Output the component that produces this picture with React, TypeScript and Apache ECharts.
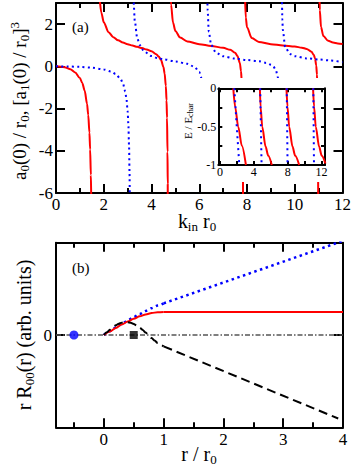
import React, { useEffect, useRef } from "react";
import * as echarts from "echarts";

const FONT = "Liberation Serif";

// ---------- Panel (a): k_in r0 -> a0(0)/r0 (red) and [a1(0)/r0]^3 (blue) ----------
const redA1: number[][] = [[0, 0], [0.2, -0.014], [0.4, -0.057], [0.6, -0.14], [0.8, -0.287], [1.0, -0.557], [1.1, -0.786], [1.2, -1.143], [1.3, -1.771], [1.35, -2.3], [1.4, -3.14], [1.43, -3.94], [1.46, -5.15], [1.48, -6.42], [1.5, -8.4]];
const redA2: number[][] = [[1.6, 22.4], [1.65, 8.64], [1.7, 5.53], [1.75, 4.15], [1.8, 3.38], [1.9, 2.54], [2.0, 2.09], [2.2, 1.62], [2.4, 1.38], [2.6, 1.23], [2.8, 1.127], [3.0, 1.048], [3.2, 0.982], [3.4, 0.922], [3.6, 0.863], [3.8, 0.796], [4.0, 0.71], [4.2, 0.577], [4.3, 0.47], [4.4, 0.296], [4.5, -0.03], [4.55, -0.342], [4.6, -0.926], [4.63, -1.615], [4.65, -2.44], [4.67, -4.05], [4.68, -5.59], [4.69, -8.5]];
const redA3: number[][] = [[4.74, 8.64], [4.75, 6.6], [4.78, 4.09], [4.82, 2.92], [4.9, 2.08], [5.0, 1.676], [5.2, 1.363], [5.5, 1.181], [6.0, 1.049], [6.5, 0.966], [7.0, 0.876], [7.3, 0.781], [7.5, 0.647], [7.6, 0.493], [7.7, 0.163], [7.75, -0.236], [7.78, -0.734], [7.8, -1.37], [7.82, -2.76], [7.84, -8.1]];
const redA4: number[][] = [[7.87, 8.9], [7.9, 3.75], [7.95, 2.31], [8.0, 1.85], [8.2, 1.338], [8.5, 1.155], [9.0, 1.05], [9.5, 0.992], [10.0, 0.935], [10.3, 0.884], [10.5, 0.825], [10.7, 0.693], [10.8, 0.533], [10.85, 0.371], [10.9, 0.043], [10.93, -0.393], [10.95, -1.0], [10.97, -2.56], [10.985, -7.6]];
const redA5: number[][] = [[11.005, 10.6], [11.01, 7.3], [11.03, 3.63], [11.05, 2.66], [11.1, 1.86], [11.2, 1.431], [11.4, 1.206], [11.6, 1.125], [11.8, 1.082], [12.0, 1.053]];

const blueA1: number[][] = [[0, 0], [0.5, -0.006], [1.0, -0.025], [1.5, -0.064], [2.0, -0.146], [2.3, -0.244], [2.5, -0.362], [2.7, -0.587], [2.8, -0.799], [2.9, -1.191], [2.95, -1.529], [3.0, -2.116], [3.03, -2.72], [3.06, -3.77], [3.08, -5.03], [3.09, -6.04], [3.1, -7.52]];
const blueA2: number[][] = [[3.17, 11.3], [3.2, 5.58], [3.25, 3.07], [3.3, 2.14], [3.4, 1.36], [3.5, 1.014], [3.7, 0.693], [4.0, 0.487], [4.25, 0.395], [4.5, 0.332], [5.0, 0.234], [5.5, 0.118], [5.8, -0.025], [6.0, -0.267], [6.1, -0.578], [6.15, -0.907], [6.2, -1.627], [6.24, -3.4]];
const blueA3: number[][] = [[6.3, 9.76], [6.33, 3.68], [6.35, 2.66], [6.4, 1.64], [6.5, 1.008], [6.7, 0.648], [7.0, 0.477], [7.5, 0.366], [8.0, 0.299], [8.5, 0.244], [8.8, 0.163], [9.0, 0.075], [9.1, -0.005], [9.2, -0.154], [9.3, -0.535], [9.35, -1.106], [9.38, -2.056], [9.4, -3.97]];
const blueA4: number[][] = [[9.44, 7.29], [9.46, 3.32], [9.48, 2.23], [9.5, 1.72], [9.6, 0.911], [9.8, 0.582], [10.0, 0.478], [10.5, 0.376], [11.0, 0.325], [11.5, 0.278], [12.0, 0.195]];

const kLabelsA = [0, 2, 4, 6, 8, 10, 12];
const kMinorA = [1, 3, 5, 7, 9, 11];
const yLabelsA = [-6, -4, -2, 0, 2];

// ---------- Inset: k_in r0 -> E / E_char ----------
const redI1: number[][] = [[1.57, 0], [1.8, -0.25], [2.15, -0.5], [2.58, -0.75], [3.06, -1]];
const redI2: number[][] = [[4.71, 0], [4.79, -0.24], [4.99, -0.5], [5.38, -0.76], [5.7, -0.88], [6.12, -1]];
const redI3: number[][] = [[7.85, 0], [7.97, -0.24], [8.17, -0.5], [8.56, -0.76], [8.88, -0.88], [9.35, -1]];
const redI4: number[][] = [[10.99, 0], [11.11, -0.24], [11.31, -0.5], [11.7, -0.76], [12.02, -0.88], [12.45, -0.98]];
const blueI1: number[][] = [[1.69, 0], [1.98, -0.5], [2.28, -1]];
const blueI2: number[][] = [[4.75, 0], [4.83, -0.5], [4.91, -1]];
const blueI3: number[][] = [[7.88, 0], [7.93, -0.5], [7.98, -1]];
const blueI4: number[][] = [[11.02, 0], [11.06, -0.5], [11.1, -1]];

const kLabelsI = [0, 4, 8, 12];
const kTicksI = [0, 2, 4, 6, 8, 10, 12];
const eLabelsI = [-1, -0.5, 0];
const eTicksI = [-1, -0.75, -0.5, -0.25, 0];

// ---------- Panel (b): r / r0 -> r R00(r) ----------
// inside the well (r < r0)
const redBIn: number[][] = [[0, 0], [0.1, 0.039], [0.2, 0.077], [0.3, 0.113], [0.4, 0.147], [0.5, 0.177], [0.6, 0.202], [0.7, 0.223], [0.8, 0.238], [0.9, 0.247], [1.0, 0.25]];
const blueBIn: number[][] = [[0, 0], [0.1, 0.04], [0.2, 0.08], [0.3, 0.119], [0.4, 0.157], [0.5, 0.194], [0.6, 0.228], [0.7, 0.261], [0.8, 0.291], [0.9, 0.319], [1.0, 0.343]];
const blackBIn: number[][] = [[0, 0], [0.05, 0.029], [0.1, 0.057], [0.15, 0.083], [0.2, 0.105], [0.25, 0.122], [0.3, 0.134], [0.35, 0.139], [0.4, 0.139], [0.45, 0.133], [0.5, 0.12], [0.55, 0.102], [0.6, 0.08], [0.65, 0.055], [0.7, 0.026], [0.75, -0.003], [0.8, -0.033], [0.85, -0.06], [0.9, -0.086], [0.95, -0.107], [1.0, -0.123]];
// outside the well (straight lines)
const redBOut: number[][] = [[1.0, 0.25], [4.0, 0.25]];
const blueBOut: number[][] = [[1.0, 0.343], [4.0, 1.02]];
const blackBOut: number[][] = [[1.0, -0.123], [3.92, -0.905]];
const baselineB: number[][] = [[-0.8, 0], [4, 0]];
const circleB: number[][] = [[-0.5, 0]];
const squareB: number[][] = [[0.5, 0]];

const rLabelsB = [0, 1, 2, 3, 4];
const rMinorB = [-0.5, 0.5, 1.5, 2.5, 3.5];
const yLabelsB = [0];

type AxOpt = {
  gridIndex: number;
  position: string;
  min: number;
  max: number;
  ticks: number[];
  len: number;
  labels?: number[];
  line?: boolean;
  fontSize?: number;
  margin?: number;
  z?: number;
};

function ax(o: AxOpt) {
  const a: any = {
    type: "value",
    gridIndex: o.gridIndex,
    position: o.position,
    min: o.min,
    max: o.max,
    axisLine: { show: o.line !== false, onZero: false, lineStyle: { color: "#000", width: 2 } },
    axisTick: { show: true, inside: true, length: o.len, customValues: o.ticks, lineStyle: { color: "#000", width: 2 } },
    axisLabel: o.labels
      ? {
          show: true,
          customValues: o.labels,
          fontSize: o.fontSize ?? 17,
          margin: o.margin ?? 3,
          color: "#000",
          fontFamily: FONT,
          showMinLabel: true,
          showMaxLabel: true,
        }
      : { show: false },
    splitLine: { show: false },
  };
  if (o.z !== undefined) a.z = o.z;
  return a;
}

function line(data: number[][], color: string, width: number, type: any, xi: number, yi: number, z = 2, smooth: any = 0.3) {
  return {
    type: "line",
    data,
    xAxisIndex: xi,
    yAxisIndex: yi,
    showSymbol: false,
    symbol: "none",
    smooth,
    smoothMonotone: "x",
    clip: true,
    silent: true,
    z,
    lineStyle: { color, width, type, cap: "butt" },
  };
}

const RED = "#ff0000";
const BLUE = "#0000ff";
const DOT_A = [2, 3.3];

const rich = {
  s: { fontSize: 13, fontFamily: FONT, verticalAlign: "bottom", lineHeight: 10 },
  p: { fontSize: 13, fontFamily: FONT, verticalAlign: "top", lineHeight: 10 },
};
const richSmall = {
  s: { fontSize: 8, fontFamily: FONT, verticalAlign: "bottom", lineHeight: 6 },
};

function label(x: number, y: number, text: string, rotated: boolean, size = 20, r: any = rich, lh = 23) {
  return {
    type: "text",
    x,
    y,
    rotation: rotated ? Math.PI / 2 : 0,
    z: 70,
    style: {
      text,
      fontSize: size,
      fontFamily: FONT,
      lineHeight: lh,
      fill: "#000",
      align: "center",
      verticalAlign: "middle",
      rich: r,
    },
  };
}

export default function App() {
  const ref = useRef<HTMLDivElement>(null);
  useEffect(() => {
    if (!ref.current) return;
    const chart = echarts.init(ref.current, undefined, { renderer: "svg" });
    const option: any = {
      animation: false,
      textStyle: { fontFamily: FONT },
      grid: [
        { left: 56, top: 3, width: 287, height: 190 },
        { left: 218.3, top: 88.3, width: 106.7, height: 76.7 },
        { left: 56, top: 242.7, width: 287, height: 184.6 },
      ],
      xAxis: [
        ax({ gridIndex: 0, position: "bottom", min: 0, max: 12, ticks: kLabelsA, len: 9, labels: kLabelsA, margin: 3 }),
        ax({ gridIndex: 0, position: "bottom", min: 0, max: 12, ticks: kMinorA, len: 5, line: false }),
        ax({ gridIndex: 0, position: "top", min: 0, max: 12, ticks: kLabelsA, len: 9 }),
        ax({ gridIndex: 0, position: "top", min: 0, max: 12, ticks: kMinorA, len: 5, line: false }),
        ax({ gridIndex: 1, position: "bottom", min: -0.2, max: 12.4, ticks: kTicksI, len: 4, labels: kLabelsI, fontSize: 12, margin: 1, z: 60 }),
        ax({ gridIndex: 1, position: "top", min: -0.2, max: 12.4, ticks: kTicksI, len: 4, z: 60 }),
        ax({ gridIndex: 2, position: "bottom", min: -0.8, max: 4, ticks: rLabelsB, len: 9, labels: rLabelsB, margin: 4 }),
        ax({ gridIndex: 2, position: "bottom", min: -0.8, max: 4, ticks: rMinorB, len: 5, line: false }),
        ax({ gridIndex: 2, position: "top", min: -0.8, max: 4, ticks: rLabelsB, len: 9 }),
        ax({ gridIndex: 2, position: "top", min: -0.8, max: 4, ticks: rMinorB, len: 5, line: false }),
      ],
      yAxis: [
        ax({ gridIndex: 0, position: "left", min: -6, max: 3, ticks: yLabelsA, len: 9, labels: yLabelsA, margin: 3 }),
        ax({ gridIndex: 0, position: "right", min: -6, max: 3, ticks: yLabelsA, len: 9 }),
        ax({ gridIndex: 1, position: "left", min: -1, max: 0, ticks: eTicksI, len: 4, labels: eLabelsI, fontSize: 12, margin: 2, z: 60 }),
        ax({ gridIndex: 1, position: "right", min: -1, max: 0, ticks: eTicksI, len: 4, z: 60 }),
        ax({ gridIndex: 2, position: "left", min: -1, max: 1, ticks: yLabelsB, len: 9, labels: yLabelsB, margin: 4 }),
        ax({ gridIndex: 2, position: "right", min: -1, max: 1, ticks: yLabelsB, len: 9 }),
      ],
      series: [
        line(redA1, RED, 2, "solid", 0, 0),
        line(redA2, RED, 2, "solid", 0, 0),
        line(redA3, RED, 2, "solid", 0, 0),
        line(redA4, RED, 2, "solid", 0, 0),
        line(redA5, RED, 2, "solid", 0, 0),
        line(blueA1, BLUE, 2, DOT_A, 0, 0, 3),
        line(blueA2, BLUE, 2, DOT_A, 0, 0, 3),
        line(blueA3, BLUE, 2, DOT_A, 0, 0, 3),
        line(blueA4, BLUE, 2, DOT_A, 0, 0, 3),

        line(redI1, RED, 2, "solid", 4, 2, 61),
        line(redI2, RED, 2, "solid", 4, 2, 61),
        line(redI3, RED, 2, "solid", 4, 2, 61),
        line(redI4, RED, 2, "solid", 4, 2, 61),
        line(blueI1, BLUE, 2, [2, 4], 4, 2, 62, false),
        line(blueI2, BLUE, 2, [2, 4], 4, 2, 62, false),
        line(blueI3, BLUE, 2, [2, 4], 4, 2, 62, false),
        line(blueI4, BLUE, 2, [2, 4], 4, 2, 62, false),

        line(baselineB, "#555555", 1.3, [5, 2, 1.5, 2], 6, 4, 2, false),
        line(blueBIn, BLUE, 2.5, [2.5, 3.5], 6, 4, 3),
        line(blueBOut, BLUE, 2.5, [2.5, 3.5], 6, 4, 3, false),
        line(redBIn, RED, 2, "solid", 6, 4, 4),
        line(redBOut, RED, 2, "solid", 6, 4, 4, false),
        line(blackBIn, "#000000", 2, [9, 5], 6, 4, 5),
        line(blackBOut, "#000000", 2, [9, 5], 6, 4, 5, false),
        {
          type: "scatter",
          data: circleB,
          xAxisIndex: 6,
          yAxisIndex: 4,
          symbol: "circle",
          symbolSize: 9,
          itemStyle: { color: BLUE },
          silent: true,
          z: 6,
        },
        {
          type: "scatter",
          data: squareB,
          xAxisIndex: 6,
          yAxisIndex: 4,
          symbol: "rect",
          symbolSize: 8,
          itemStyle: { color: "#000" },
          silent: true,
          z: 6,
        },
      ],
      graphic: [
        { type: "rect", z: 50, shape: { x: 180, y: 78, width: 150, height: 104 }, style: { fill: "#ffffff" } },
        label(19.5, 101, "a{s|0}(0) / r{s|0}, [a{s|1}(0) / r{s|0}]{p|3}", true, 19),
        label(197, 221, "k{s|in} r{s|0}", false),
        label(24, 335, "r R{s|00}(r) (arb. units)", true),
        label(199, 454, "r / r{s|0}", false),
        label(188, 121, "E / E{s|char}", true, 11, richSmall, 13),
        {
          type: "text",
          x: 72,
          y: 27,
          z: 70,
          style: { text: "(a)", fontSize: 15, fontFamily: FONT, fill: "#000", verticalAlign: "middle" },
        },
        {
          type: "text",
          x: 72,
          y: 268,
          z: 70,
          style: { text: "(b)", fontSize: 15, fontFamily: FONT, fill: "#000", verticalAlign: "middle" },
        },
      ],
    };
    chart.setOption(option);
    return () => chart.dispose();
  }, []);
  return <div ref={ref} style={{ position: "absolute", left: 0, top: 0, width: 354, height: 472 }} />;
}
